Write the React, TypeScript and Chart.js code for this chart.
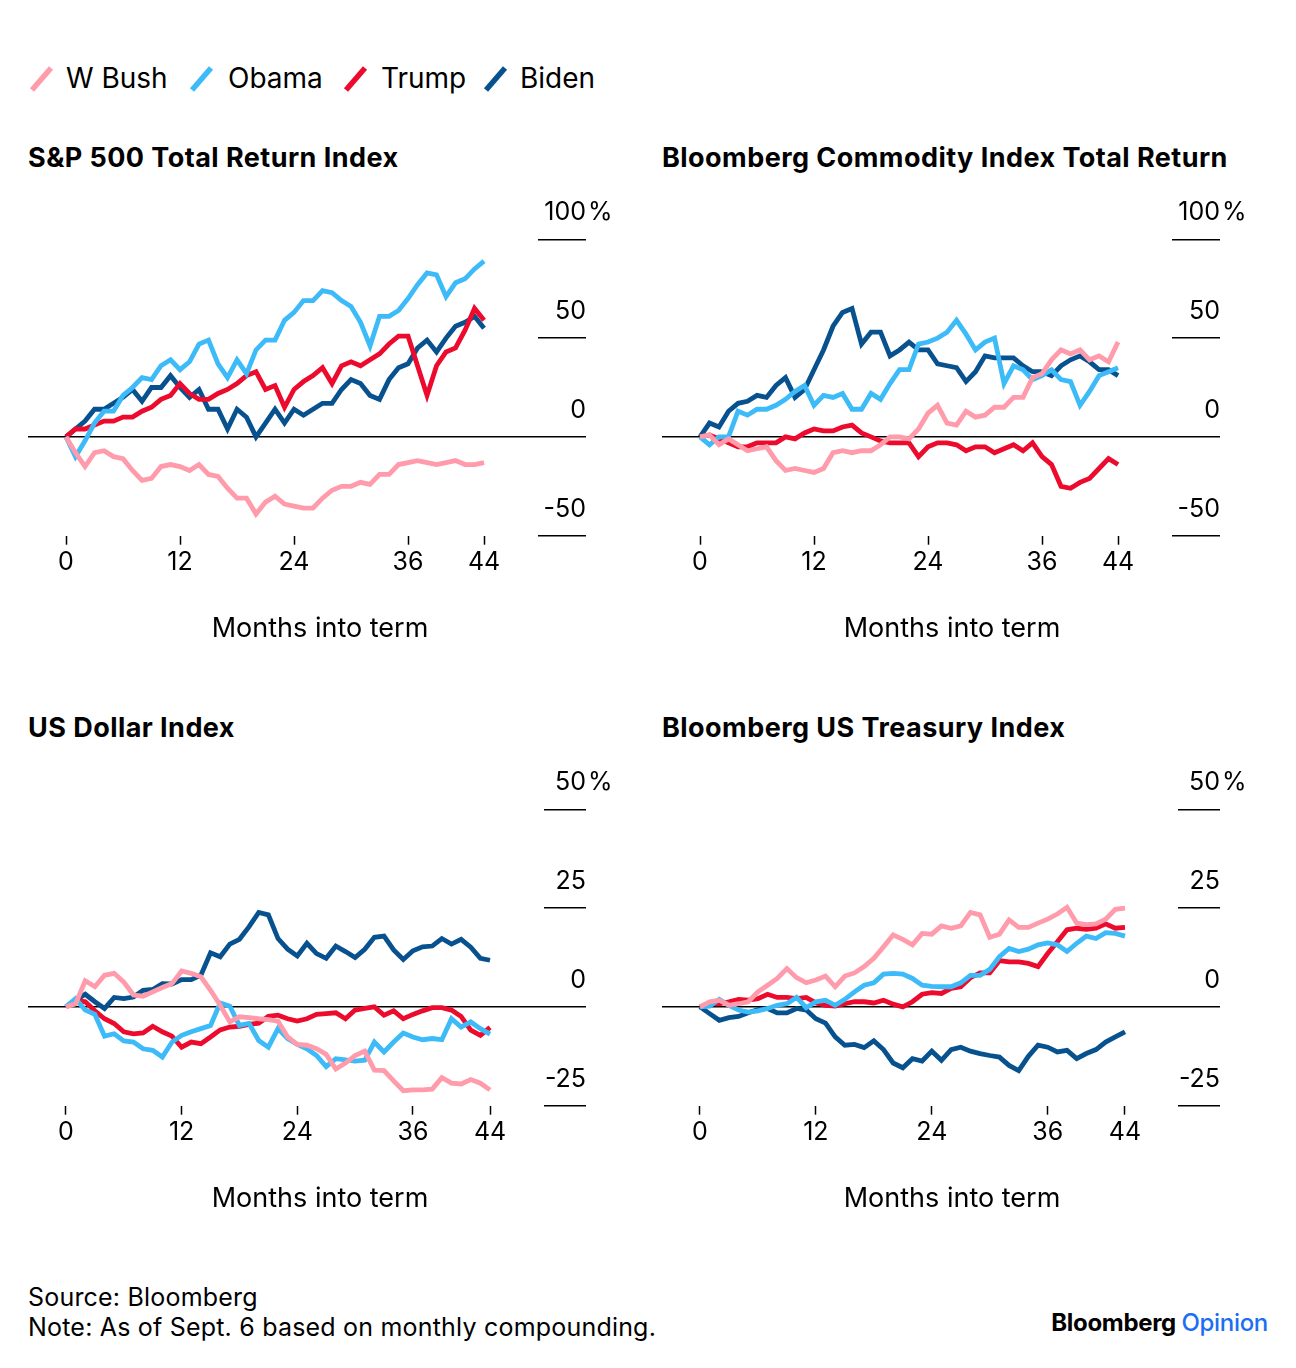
import React, { useEffect, useRef } from 'react';
import { Chart, registerables } from 'chart.js';

Chart.register(...registerables);

// ---------- data ----------
const months = Array.from({ length: 45 }, (_, i) => i);
const seriesNames = ['W Bush', 'Obama', 'Trump', 'Biden'];
const seriesColors = ['#FF9BAA', '#3DBBF8', '#EC0B2D', '#08518F'];
const xTickValues = [0, 12, 24, 36, 44];
const yTicksTop = [-50, 0, 50, 100];
const yTicksBottom = [-25, 0, 25, 50];

const spBush = [0, -8, -15, -8, -7, -10, -11, -17, -22, -21, -15, -14, -15, -17, -14, -19, -20, -26, -31, -31, -39, -33, -30, -34, -35, -36, -36, -31, -27, -25, -25, -23, -24, -19, -19, -14, -13, -12, -13, -14, -13, -12, -14, -14, -13];
const spObama = [0, -10, -2, 7, 13, 13, 21, 25, 30, 29, 36, 39, 34, 38, 47, 49, 37, 30, 39, 32, 44, 49, 49, 59, 63, 69, 69, 74, 73, 69, 66, 58, 46, 61, 61, 64, 70, 77, 83, 82, 71, 78, 80, 85, 89];
const spTrump = [0, 4, 4, 6, 8, 8, 10, 10, 13, 15, 19, 21, 27, 22, 19, 19, 22, 24, 27, 31, 33, 24, 26, 15, 24, 28, 31, 35, 27, 36, 38, 36, 39, 42, 47, 51, 51, 36, 21, 36, 43, 45, 54, 65, 59];
const spBiden = [0, 4, 8, 14, 14, 17, 20, 24, 18, 25, 25, 31, 25, 20, 24, 14, 14, 4, 14, 10, 0, 7, 14, 7, 14, 11, 14, 17, 17, 24, 29, 27, 21, 19, 29, 35, 37, 45, 49, 43, 50, 56, 58, 61, 55];

const cmBush = [0, 1, -4, -1, -4, -7, -6, -5, -12, -17, -16, -17, -18, -16, -8, -7, -8, -7, -7, -4, 0, 0, -1, 4, 12, 16, 7, 6, 13, 10, 11, 15, 15, 20, 20, 30, 32, 39, 44, 42, 44, 39, 41, 38, 48];
const cmObama = [0, -4, 0, 0, 13, 11, 14, 14, 16, 19, 23, 26, 16, 21, 20, 22, 14, 14, 22, 19, 27, 34, 34, 47, 48, 50, 53, 59, 52, 44, 48, 50, 27, 36, 34, 29, 31, 34, 29, 28, 16, 23, 31, 33, 35];
const cmTrump = [0, 1, -1, -3, -5, -5, -3, -3, -3, 0, -1, 2, 4, 3, 3, 5, 6, 2, 0, -2, -3, -3, -3, -10, -5, -3, -3, -4, -7, -5, -5, -8, -6, -4, -7, -3, -10, -14, -25, -26, -23, -21, -16, -11, -14];
const cmBiden = [0, 7, 5, 13, 17, 18, 21, 20, 26, 30, 20, 24, 34, 44, 56, 63, 65, 47, 53, 53, 41, 44, 48, 44, 44, 37, 36, 35, 28, 33, 41, 40, 40, 40, 36, 33, 33, 31, 36, 39, 41, 38, 34, 34, 31];

const usBush = [0, 0.8, 6.6, 5.1, 8.0, 8.5, 6.3, 3.0, 2.7, 3.8, 4.9, 5.9, 9.1, 8.5, 7.6, 4.2, 0.4, -3.8, -2.5, -2.7, -3.0, -3.2, -3.6, -7.6, -9.5, -9.7, -10.6, -12.0, -15.7, -14.2, -12.3, -11.2, -16.0, -16.1, -18.7, -21.2, -21.0, -21.0, -20.8, -17.9, -19.3, -19.5, -18.4, -19.3, -21.0];
const usObama = [0, 2.1, -0.8, -1.9, -7.4, -6.8, -8.6, -8.9, -10.6, -11.0, -12.7, -8.9, -7.2, -6.3, -5.5, -4.7, 1.0, 0.2, -4.7, -4.2, -8.5, -10.2, -5.5, -8.0, -9.5, -10.6, -12.3, -15.1, -13.1, -13.4, -13.7, -13.5, -8.9, -11.4, -8.9, -6.6, -7.6, -8.3, -8.0, -8.3, -3.0, -5.1, -3.8, -5.5, -6.9];
const usTrump = [0, 1.7, 1.3, -1.0, -3.0, -4.2, -6.3, -6.8, -6.6, -4.9, -6.3, -7.4, -10.2, -8.9, -9.3, -7.6, -5.8, -5.1, -4.9, -4.4, -4.1, -2.4, -2.1, -3.0, -3.6, -3.0, -1.9, -1.7, -1.5, -3.0, -0.8, -0.4, 0, -2.1, -1.0, -3.0, -1.9, -1.0, -0.2, -0.2, -0.8, -2.4, -5.9, -7.2, -5.2];
const usBiden = [0, 1.7, 3.2, 1.3, -0.4, 2.4, 2.1, 2.5, 4.2, 4.4, 5.9, 5.8, 6.9, 6.9, 8.0, 13.7, 12.7, 15.9, 17.1, 20.3, 23.9, 23.3, 17.3, 14.6, 12.9, 16.1, 13.5, 12.3, 15.4, 14.0, 12.5, 14.6, 17.6, 17.9, 14.4, 12.0, 14.2, 15.2, 15.4, 17.3, 15.9, 17.1, 15.1, 12.3, 11.8];

const trBush = [0, 1.3, 1.7, 0.4, 0.8, 1.3, 3.8, 5.5, 7.2, 9.7, 7.4, 6.1, 6.8, 7.8, 5.1, 7.8, 8.6, 10.2, 12.3, 15.2, 18.2, 17.1, 15.7, 18.6, 18.4, 20.5, 19.9, 20.5, 23.9, 23.3, 17.6, 18.4, 22.0, 20.1, 20.1, 21.2, 22.2, 23.5, 25.2, 21.2, 20.8, 21.0, 22.2, 24.7, 25.0];
const trObama = [0, 0.2, 1.9, 0.4, -0.8, -1.3, -1.0, -0.4, 0.4, 0.8, 2.4, -0.2, 1.3, 1.7, 0.4, 1.9, 3.8, 5.5, 6.1, 8.3, 8.5, 8.3, 7.2, 5.5, 5.2, 5.1, 5.1, 6.1, 8.0, 8.0, 9.5, 12.7, 14.8, 14.0, 14.6, 15.7, 16.2, 15.7, 14.0, 16.1, 17.9, 17.3, 18.8, 18.6, 17.9];
const trTrump = [0, 0.8, 0.8, 1.3, 1.9, 1.7, 2.1, 3.2, 2.4, 2.4, 2.1, 2.4, 1.0, 0.4, 0.2, 0.8, 1.3, 1.3, 1.0, 1.7, 0.7, 0, 1.3, 3.2, 3.6, 3.4, 4.7, 5.1, 7.4, 8.6, 8.6, 11.7, 11.4, 11.4, 11.0, 10.2, 13.5, 16.5, 19.5, 19.9, 19.6, 19.9, 21.0, 19.9, 20.1];
const trBiden = [0, -1.7, -3.4, -2.7, -2.4, -1.5, -0.7, -0.4, -1.5, -1.5, -0.4, -0.8, -3.0, -4.1, -7.6, -9.7, -9.5, -10.3, -8.6, -10.8, -14.2, -15.4, -13.1, -13.7, -11.2, -13.5, -10.8, -10.2, -11.2, -11.8, -12.3, -12.7, -14.8, -16.1, -12.5, -9.7, -10.2, -11.4, -11.0, -13.1, -11.8, -10.8, -8.9, -7.6, -6.3];

const FONT = 'Inter, "Noto Sans", sans-serif';

// ---------- plugin: "%" suffix and axis title ----------
const extrasPlugin = {
  id: 'extras',
  afterDraw(chart: any, _args: any, opts: any) {
    const ctx = chart.ctx;
    const y = chart.scales.y;
    ctx.save();
    ctx.fillStyle = '#000';
    ctx.font = `25px ${FONT}`;
    const top = y.ticks[y.ticks.length - 1];
    ctx.textAlign = 'left';
    ctx.textBaseline = 'middle';
    ctx.fillText('%', y.right + 2, y.getPixelForValue(top.value) + opts.labelOffset);
    ctx.font = `27px ${FONT}`;
    ctx.textAlign = 'center';
    ctx.textBaseline = 'alphabetic';
    ctx.fillText(opts.axisTitle, opts.titleX, chart.chartArea.bottom + opts.titleGap);
    ctx.restore();
  },
};

type PanelProps = {
  left: number;
  top: number;
  width: number;
  height: number;
  padLeft: number;
  padRight: number;
  padTop: number;
  padBottom: number;
  seg: number;
  xMin: number;
  xMax: number;
  yMin: number;
  yMax: number;
  yTicks: number[];
  series: number[][];
  titleX: number;
};

const LABEL_OFFSET = -26.5;

function Panel(p: PanelProps) {
  const ref = useRef<HTMLCanvasElement>(null);
  useEffect(() => {
    if (!ref.current) return;
    const chart = new Chart(ref.current, {
      type: 'line',
      data: {
        datasets: p.series.map((vals, si) => ({
          label: seriesNames[si],
          data: months.map((m, i) => ({ x: m, y: vals[i] })),
          borderColor: seriesColors[si],
          backgroundColor: seriesColors[si],
          borderWidth: 4.8,
          pointRadius: 0,
          tension: 0,
          fill: false,
          borderJoinStyle: 'miter',
        })),
      },
      options: {
        responsive: false,
        maintainAspectRatio: false,
        animation: false,
        devicePixelRatio: 1,
        events: [],
        layout: {
          padding: { left: p.padLeft, right: p.padRight, top: p.padTop, bottom: p.padBottom },
        },
        plugins: {
          legend: { display: false },
          tooltip: { enabled: false },
          title: { display: false },
          extras: {
            labelOffset: LABEL_OFFSET,
            titleX: p.titleX,
            titleGap: 101,
            axisTitle: 'Months into term',
          },
        } as any,
        scales: {
          x: {
            type: 'linear',
            bounds: 'data',
            min: p.xMin,
            max: p.xMax,
            afterBuildTicks: (s: any) => {
              s.ticks = xTickValues.map((v) => ({ value: v }));
            },
            afterFit: (s: any) => {
              s.height = 60;
            },
            grid: {
              drawOnChartArea: false,
              drawTicks: true,
              tickLength: 9,
              tickColor: '#000',
              tickWidth: 1.5,
              color: 'rgba(0,0,0,0)',
            },
            border: { display: false },
            ticks: {
              padding: 3,
              color: '#000',
              font: { family: FONT, size: 25 },
              maxRotation: 0,
              autoSkip: false,
              callback: (v: any) => String(v),
            },
          },
          y: {
            type: 'linear',
            position: 'right',
            bounds: 'data',
            min: p.yMin,
            max: p.yMax,
            afterBuildTicks: (s: any) => {
              s.ticks = p.yTicks.map((v) => ({ value: v }));
            },
            afterFit: (s: any) => {
              s.width = p.seg;
            },
            grid: {
              drawOnChartArea: true,
              color: (c: any) => (c.tick && c.tick.value === 0 ? '#000' : 'rgba(0,0,0,0)'),
              lineWidth: 1.6,
              drawTicks: true,
              tickLength: p.seg,
              tickColor: '#000',
              tickWidth: 1.6,
            },
            border: { display: false },
            ticks: {
              mirror: true,
              padding: p.seg,
              labelOffset: LABEL_OFFSET,
              color: '#000',
              font: { family: FONT, size: 25 },
              callback: (v: any) => String(v),
            },
          },
        },
      } as any,
      plugins: [extrasPlugin],
    });
    return () => chart.destroy();
  }, []);
  return (
    <canvas
      ref={ref}
      width={p.width}
      height={p.height}
      style={{ position: 'absolute', left: p.left, top: p.top, width: p.width, height: p.height }}
    />
  );
}

const titleStyle: React.CSSProperties = {
  position: 'absolute',
  fontFamily: FONT,
  fontWeight: 700,
  fontSize: 27,
  lineHeight: '27px',
  whiteSpace: 'nowrap',
  color: '#000',
  letterSpacing: '0.45px',
};

function LegendItem({ x, textX, color, label }: { x: number; textX: number; color: string; label: string }) {
  return (
    <>
      <svg style={{ position: 'absolute', left: x, top: 65 }} width={26} height={28}>
        <line x1={3} y1={25} x2={22} y2={3} stroke={color} strokeWidth={5.5} />
      </svg>
      <div
        style={{
          position: 'absolute',
          left: textX,
          top: 64,
          fontFamily: FONT,
          fontSize: 28,
          lineHeight: '28px',
          whiteSpace: 'nowrap',
          color: '#000',
        }}
      >
        {label}
      </div>
    </>
  );
}

const footStyle: React.CSSProperties = {
  position: 'absolute',
  left: 28,
  fontSize: 25,
  lineHeight: '25px',
  whiteSpace: 'nowrap',
  color: '#000',
  letterSpacing: '0.2px',
};

export default function App() {
  const legendX = [29, 189, 343, 483];
  const legendTextX = [66, 228, 381, 520];
  return (
    <div
      style={{
        position: 'absolute',
        left: 0,
        top: 0,
        width: 1296,
        height: 1368,
        background: '#fff',
        overflow: 'hidden',
        fontFamily: FONT,
      }}
    >
      {seriesNames.map((n, i) => (
        <LegendItem key={n} x={legendX[i]} textX={legendTextX[i]} color={seriesColors[i]} label={n} />
      ))}

      <div style={{ ...titleStyle, left: 28, top: 144 }}>S&amp;P 500 Total Return Index</div>
      <div style={{ ...titleStyle, left: 662, top: 144 }}>Bloomberg Commodity Index Total Return</div>
      <div style={{ ...titleStyle, left: 28, top: 714 }}>US Dollar Index</div>
      <div style={{ ...titleStyle, left: 662, top: 714 }}>Bloomberg US Treasury Index</div>

      <Panel
        left={0} top={170} width={634} height={490}
        padLeft={28} padRight={48} padTop={69.3} padBottom={64.3}
        seg={48} xMin={-4} xMax={49.68} yMin={-50} yMax={100} yTicks={yTicksTop}
        series={[spBush, spObama, spTrump, spBiden]} titleX={320}
      />
      <Panel
        left={634} top={170} width={662} height={490}
        padLeft={28} padRight={76} padTop={69.3} padBottom={64.3}
        seg={48} xMin={-4} xMax={49.68} yMin={-50} yMax={100} yTicks={yTicksTop}
        series={[cmBush, cmObama, cmTrump, cmBiden]} titleX={318}
      />
      <Panel
        left={0} top={740} width={634} height={490}
        padLeft={28} padRight={48} padTop={69.3} padBottom={64.3}
        seg={42} xMin={-3.94} xMax={49.6} yMin={-25} yMax={50} yTicks={yTicksBottom}
        series={[usBush, usObama, usTrump, usBiden]} titleX={320}
      />
      <Panel
        left={634} top={740} width={662} height={490}
        padLeft={28} padRight={76} padTop={69.3} padBottom={64.3}
        seg={42} xMin={-3.93} xMax={49.49} yMin={-25} yMax={50} yTicks={yTicksBottom}
        series={[trBush, trObama, trTrump, trBiden]} titleX={318}
      />

      <div style={{ ...footStyle, top: 1285 }}>Source: Bloomberg</div>
      <div style={{ ...footStyle, top: 1315 }}>Note: As of Sept. 6 based on monthly compounding.</div>
      <div
        style={{
          position: 'absolute',
          right: 1296 - 1268,
          top: 1311,
          fontSize: 24,
          lineHeight: '24px',
          whiteSpace: 'nowrap',
          fontWeight: 700,
          letterSpacing: '-0.3px',
        }}
      >
        <span style={{ color: '#000' }}>Bloomberg</span>{' '}
        <span style={{ color: '#1C6EF2', fontWeight: 500 }}>Opinion</span>
      </div>
    </div>
  );
}
